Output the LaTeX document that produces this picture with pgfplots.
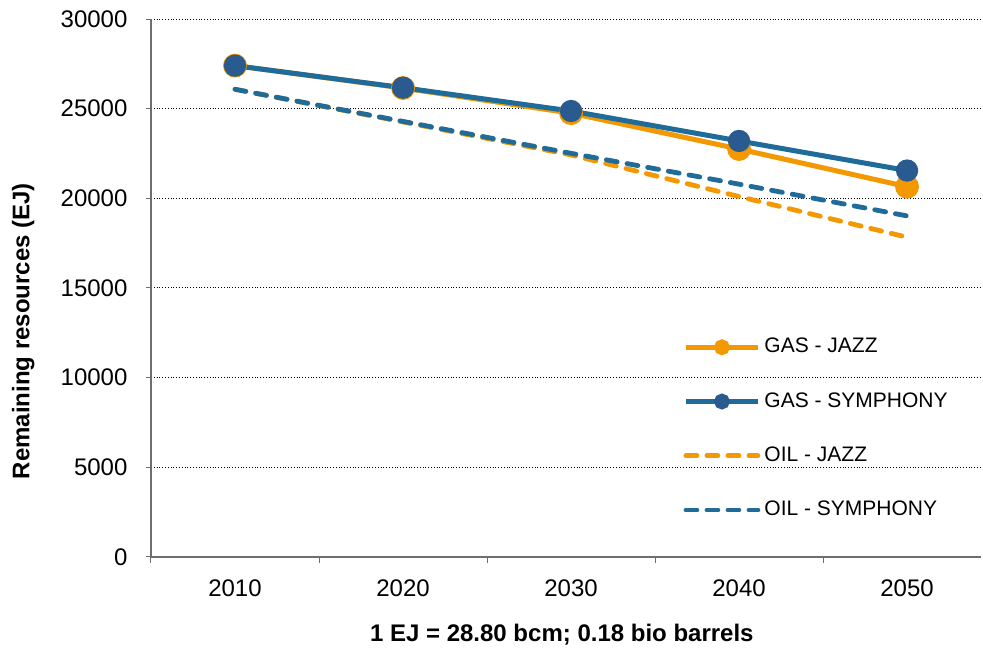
\documentclass[border=0pt]{standalone}
\usepackage{pgfplots}
\pgfplotsset{compat=1.18}
\usepackage{fontspec}
\setmainfont{Liberation Sans}

\definecolor{jazzOrange}{RGB}{243,152,0}
\definecolor{symLine}{RGB}{31,107,153}
\definecolor{symMark}{RGB}{41,91,145}
\definecolor{axisGray}{RGB}{110,110,110}

\begin{document}
\fontsize{12}{14}\selectfont
\begin{tikzpicture}
\begin{axis}[
    scale only axis,
    width=415pt,
    height=269pt,
    xmin=-0.5, xmax=4.44,
    ymin=0, ymax=30000,
    xtick={0,1,2,3,4},
    xticklabels={2010,2020,2030,2040,2050},
    minor xtick={-0.5,0.5,1.5,2.5,3.5},
    ytick={0,5000,...,30000},
    major x tick style={draw=none},
    minor tick length=3pt,
    major tick length=2.6pt,
    tick align=outside,
    tick style={axisGray, line width=0.5pt},
    axis x line*=bottom,
    axis y line*=left,
    axis line style={axisGray, line width=0.6pt, -},
    ymajorgrids=true,
    grid style={black, densely dotted, line width=0.5pt},
    scaled y ticks=false,
    /pgf/number format/assume math mode=true,
    /pgf/number format/fixed,
    /pgf/number format/1000 sep={},
    yticklabel style={xshift=-5pt},
    xticklabel style={yshift=-4.4pt},
    tick label style={font=\fontsize{12}{14}\selectfont},
    ylabel={\bfseries Remaining resources (EJ)},
    ylabel style={font=\fontsize{12}{14}\selectfont,
        at={(axis description cs:-0.154,0.42)}, anchor=center},
    xlabel={\bfseries 1 EJ = 28.80 bcm; 0.18 bio barrels},
    xlabel style={font=\fontsize{12}{14}\selectfont,
        at={(axis description cs:0.495,-0.145)}, anchor=center},
    clip=false,
    legend style={
        draw=none, fill=none,
        at={(0.641,0.415)}, anchor=north west,
        font=\fontsize{10.5}{12.5}\selectfont,
        row sep=14pt,
        legend cell align=left,
        inner sep=0pt,
    },
    legend image code/.code={
        \draw[mark repeat=2, mark phase=2, mark size=2.7pt]
            plot coordinates {(0pt,0pt) (18pt,0pt) (36pt,0pt)};
    },
]
\addplot[jazzOrange, line width=2.5pt, mark=*, mark size=4.7pt,
    mark options={fill=jazzOrange, draw=jazzOrange, solid}] coordinates {
    (0,27400) (1,26150) (2,24750) (3,22750) (4,20650)
};
\addlegendentry{GAS - JAZZ}
\addplot[symLine, line width=2.5pt, mark=*, mark size=4.3pt,
    mark options={fill=symMark, draw=symMark, solid}] coordinates {
    (0,27400) (1,26170) (2,24870) (3,23200) (4,21550)
};
\addlegendentry{GAS - SYMPHONY}
\addplot[jazzOrange, line width=2.4pt, line cap=round,
    dash pattern=on 5.5pt off 5pt] coordinates {
    (0,26080) (1,24260) (2,22420) (3,20100) (4,17830)
};
\addlegendentry{OIL - JAZZ}
\addplot[symLine, line width=2.4pt, line cap=round,
    dash pattern=on 5.5pt off 5pt] coordinates {
    (0,26080) (1,24290) (2,22510) (3,20790) (4,19020)
};
\addlegendentry{OIL - SYMPHONY}
\coordinate (bl) at (rel axis cs:0,0);
\coordinate (tr) at (rel axis cs:1,1);
\end{axis}
\pgfresetboundingbox
\path ([shift={(-75.5pt,-48pt)}]bl) rectangle ([shift={(1pt,9.5pt)}]tr);
\end{tikzpicture}
\end{document}
